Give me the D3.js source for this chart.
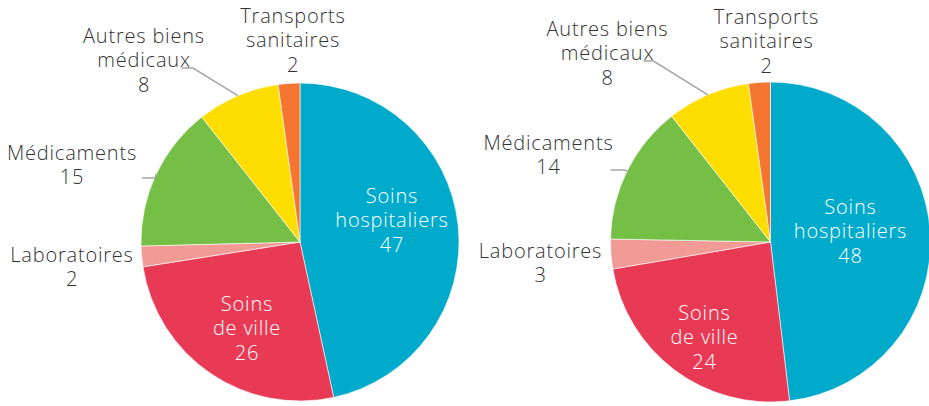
<!DOCTYPE html>
<html><head><meta charset="utf-8">
<script src="https://cdn.jsdelivr.net/npm/d3@7"></script>
<style>
html,body{margin:0;padding:0;background:#fff;}
svg{display:block;}
text{font-family:"Open Sans",sans-serif;font-weight:300;letter-spacing:0.8px;}
</style></head>
<body>
<script>
// ---- data ----
const categories = ["Soins hospitaliers","Soins de ville","Laboratoires","Médicaments","Autres biens médicaux","Transports sanitaires"];
const valuesLeft  = [46.6, 25.9, 2.1, 14.8, 8.4, 2.2];
const valuesRight = [48.1, 24.2, 3.0, 14.1, 8.4, 2.2];
const colors = ["#00AACB","#E83A55","#F29A96","#76BF47","#FEDD00","#F47630"];

// ---- layout ----
const W = 929, H = 406;
const lineSplit = [["Soins","hospitaliers"],["Soins","de ville"],["Laboratoires"],["Médicaments"],["Autres biens","médicaux"],["Transports","sanitaires"]];
const inside = [true,true,false,false,false,false];
const pies = [
  {values: valuesLeft, cx: 300, cy: 242, r: 159,
   labels: [[92,-47],[-53,61],[-228,12],[-228,-90],[-156,-207],[-7,-227]],
   leaders: {3: [[-158,-64],[-145,-64]], 4: [[-118,-174],[-107,-174]]}},
  {values: valuesRight, cx: 770.5, cy: 242, r: 160,
   labels: [[80,-36],[-66,70],[-230,8],[-222,-100],[-163,-214],[-4,-226]],
   leaders: {3: [[-160,-72],[-147,-72]], 4: [[-127,-181],[-117,-181]]}}
];
const lineH = 24.5;

const svg = d3.select("body").append("svg").attr("width", W).attr("height", H);

const pie = d3.pie().sort(null).value(d => d);

pies.forEach(P => {
  const g = svg.append("g").attr("transform", `translate(${P.cx},${P.cy})`);
  const arcs = pie(P.values);
  const arc = d3.arc().innerRadius(0).outerRadius(P.r);
  g.selectAll("path.slice").data(arcs).enter().append("path")
    .attr("class","slice")
    .attr("d", arc)
    .attr("fill", (d,i) => colors[i])
    .attr("stroke", "#fff").attr("stroke-width", 0.6);

  // leader lines
  Object.keys(P.leaders).forEach(k => {
    const a = arcs[k];
    const mid = (a.startAngle + a.endAngle) / 2;
    const edge = [P.r * Math.sin(mid), -P.r * Math.cos(mid)];
    const pts = P.leaders[k].concat([edge]);
    g.append("path").attr("d", d3.line()(pts))
      .attr("fill","none").attr("stroke","#A6A6A6").attr("stroke-width",1.5);
  });

  // labels
  arcs.forEach((a,i) => {
    const lines = lineSplit[i].concat([String(Math.round(P.values[i]))]);
    const t = g.append("text")
      .attr("text-anchor","middle")
      .attr("font-size", 20)
      .attr("fill", inside[i] ? "#ffffff" : "#333333");
    lines.forEach((ln, j) => {
      t.append("tspan")
        .attr("x", P.labels[i][0])
        .attr("y", P.labels[i][1] + j * lineH)
        .attr("dominant-baseline","central")
        .text(ln);
    });
  });
});
</script>
</body></html>
